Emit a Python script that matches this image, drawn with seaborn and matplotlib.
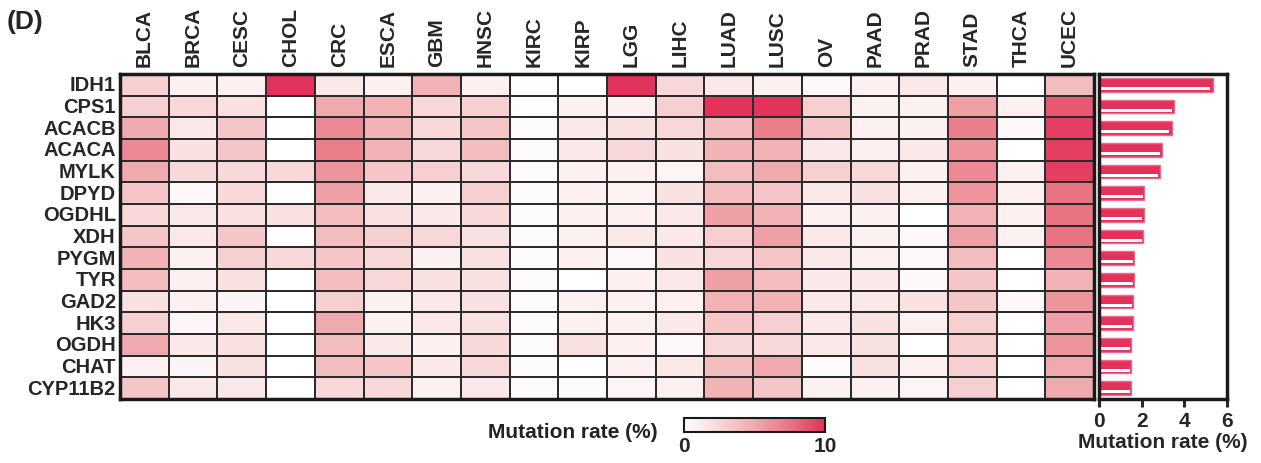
import numpy as np
import pandas as pd
import matplotlib
matplotlib.use("Agg")
import matplotlib.pyplot as plt
from matplotlib.colors import LinearSegmentedColormap
import seaborn as sns

sns.set_style("white")
plt.rcParams["font.family"] = ["Liberation Sans", "DejaVu Sans"]
plt.rcParams["font.weight"] = "bold"

cancers = ["BLCA", "BRCA", "CESC", "CHOL", "CRC", "ESCA", "GBM", "HNSC", "KIRC", "KIRP",
           "LGG", "LIHC", "LUAD", "LUSC", "OV", "PAAD", "PRAD", "STAD", "THCA", "UCEC"]
genes = ["IDH1", "CPS1", "ACACB", "ACACA", "MYLK", "DPYD", "OGDHL", "XDH", "PYGM", "TYR",
         "GAD2", "HK3", "OGDH", "CHAT", "CYP11B2"]

# mutation rate (%) per gene (row) and cancer type (column)
idh1 = [3, 1, 1, 10, 1.5, 1, 4.5, 1, 0.2, 0, 10, 2.5, 1.5, 1, 0.5, 1, 1.5, 1, 0, 4]
cps1 = [3, 2.5, 2, 0, 5, 4.5, 2.5, 3, 0.2, 1, 1, 3, 10, 10, 3, 1, 1, 5.5, 1, 8.5]
acacb = [5, 1.5, 3.5, 0, 6.5, 4.5, 2.5, 3.5, 0.3, 1.5, 2, 2.5, 4, 7, 3.5, 1, 1, 7, 0.5, 9.5]
acaca = [6.5, 2, 3.5, 0, 7, 4.5, 2.5, 4, 0.3, 1.5, 2.5, 2, 4.5, 4.5, 1.5, 1, 1.5, 6, 0, 9.5]
mylk = [5, 2.5, 2.5, 2.5, 6, 3.5, 3, 2.5, 0.3, 1, 1, 0.7, 4, 5, 3, 2.5, 1, 6.5, 1, 9.5]
dpyd = [3.5, 0.5, 2.5, 0, 5.5, 1.5, 1, 3, 0.3, 1, 0.8, 2, 4, 3.5, 1.5, 2, 1, 6, 1, 7.5]
ogdhl = [2.5, 1.5, 2, 2, 4, 2, 1.5, 2.5, 0.3, 1, 1, 1.5, 5.5, 4.5, 1, 1, 0, 4.5, 1, 7.5]
xdh = [3.5, 1.5, 3.5, 0, 4, 3, 2.5, 2, 0.3, 1, 1.5, 1.5, 3, 5.5, 1.5, 1, 0.5, 5.5, 1, 7.5]
pygm = [4.5, 1, 3, 2.5, 3.5, 2.5, 1, 2, 0.3, 1, 0.5, 2, 2.5, 3.5, 1.5, 1, 0.5, 4, 0, 6.5]
tyr = [4, 1, 2, 0, 4, 2.5, 2, 2, 0.3, 0, 1, 1.5, 5.5, 4, 1.5, 1.5, 0.5, 3.5, 0, 4.5]
gad2 = [2, 1, 0.7, 0, 3, 1, 1.5, 2, 0.3, 1, 1, 1, 4.5, 4.5, 1.5, 1.5, 2, 3.5, 0.5, 6]
hk3 = [3, 0.7, 1.5, 0, 5, 1, 1.5, 2, 0.3, 1, 1, 1.5, 3.5, 3, 1.5, 2, 1, 3, 0, 5.5]
ogdh = [5, 1.5, 2, 0, 4, 1.5, 1, 2.5, 0.3, 2, 1, 0.5, 2.5, 2.5, 1.5, 2, 0, 3, 0, 6]
chat = [1, 0.7, 2, 0, 4, 3.5, 1.5, 2.5, 0.3, 0, 1, 1.5, 4, 5, 0.3, 2, 1, 3, 0, 5]
cyp11b2 = [3.5, 1.5, 1.5, 0, 2.5, 2.5, 1, 1.5, 0.3, 0.3, 0.7, 1, 4.5, 3.5, 1, 1, 0.7, 3, 0, 5]

# pan-cancer mutation rate (%) per gene
pan_rate = [5.35, 3.53, 3.4, 2.94, 2.85, 2.13, 2.1, 2.06, 1.66, 1.66, 1.6, 1.6, 1.5, 1.48, 1.48]

rate = pd.DataFrame([idh1, cps1, acacb, acaca, mylk, dpyd, ogdhl, xdh, pygm, tyr,
                     gad2, hk3, ogdh, chat, cyp11b2], index=genes, columns=cancers)

cmap = LinearSegmentedColormap.from_list(
    "mut", ["#FFFFFF", "#F8D8D9", "#F0A9AE", "#E97483", "#E3325B"], N=256)
red = "#E3325B"

W, H = 1261, 464
fig = plt.figure(figsize=(W / 100, H / 100), dpi=100)

def box(x0, y0, x1, y1):
    return [x0 / W, 1 - y1 / H, (x1 - x0) / W, (y1 - y0) / H]

ax = fig.add_axes(box(120, 75, 1094, 400))
cax = fig.add_axes(box(684, 419, 825, 433))
axb = fig.add_axes(box(1099, 75, 1227, 400))

sns.heatmap(rate, ax=ax, cmap=cmap, vmin=0, vmax=10, linewidths=1.1, linecolor="#2b2b2b",
            cbar_ax=cax, cbar_kws={"orientation": "horizontal", "ticks": [0, 10]})
ax.xaxis.tick_top()
ax.set_xticklabels(cancers, rotation=90, fontsize=15, fontweight="bold")
ax.set_yticklabels(genes, rotation=0, fontsize=14.5, fontweight="bold")
ax.tick_params(axis="x", length=0, pad=6)
ax.tick_params(axis="y", length=0, pad=3)
for s in ax.spines.values():
    s.set_visible(True)
    s.set_linewidth(2.5)
    s.set_color("#1a1a1a")

cb = ax.collections[0].colorbar
cb.outline.set_linewidth(1.5)
cb.outline.set_edgecolor("#1a1a1a")
cax.tick_params(length=0, labelsize=15, pad=3)
for t in cax.get_xticklabels():
    t.set_fontweight("bold")
fig.text(658 / W, 1 - 433 / H, "Mutation rate (%)", ha="right", va="center",
         fontsize=15, fontweight="bold", color="#222222")

# bar panel
bar_df = pd.DataFrame({"gene": genes, "rate": pan_rate})
sns.barplot(data=bar_df, x="rate", y="gene", ax=axb, orient="h", color=red,
            edgecolor="#EF6A88", linewidth=1.0, width=0.64, saturation=1)
ypos = np.arange(len(genes))
axb.barh(ypos + 0.17, bar_df["rate"] * 0.97, height=0.14, left=0, color="white", linewidth=0)
axb.set_xlim(0, 6)
axb.set_ylim(len(genes) - 0.5, -0.5)
axb.set_xticks([0, 2, 4, 6])
axb.set_yticks([])
axb.set_ylabel("")
axb.set_xlabel("Mutation rate (%)", fontsize=15, fontweight="bold", labelpad=1)
axb.tick_params(axis="x", direction="out", length=6, width=2.2, labelsize=15, pad=3, bottom=True)
for t in axb.get_xticklabels():
    t.set_fontweight("bold")
for s in axb.spines.values():
    s.set_visible(True)
    s.set_linewidth(2.5)
    s.set_color("#1a1a1a")

fig.text(7 / W, 1 - 22 / H, "(D)", ha="left", va="center", fontsize=19, fontweight="bold")

fig.savefig("out.png", dpi=100)
